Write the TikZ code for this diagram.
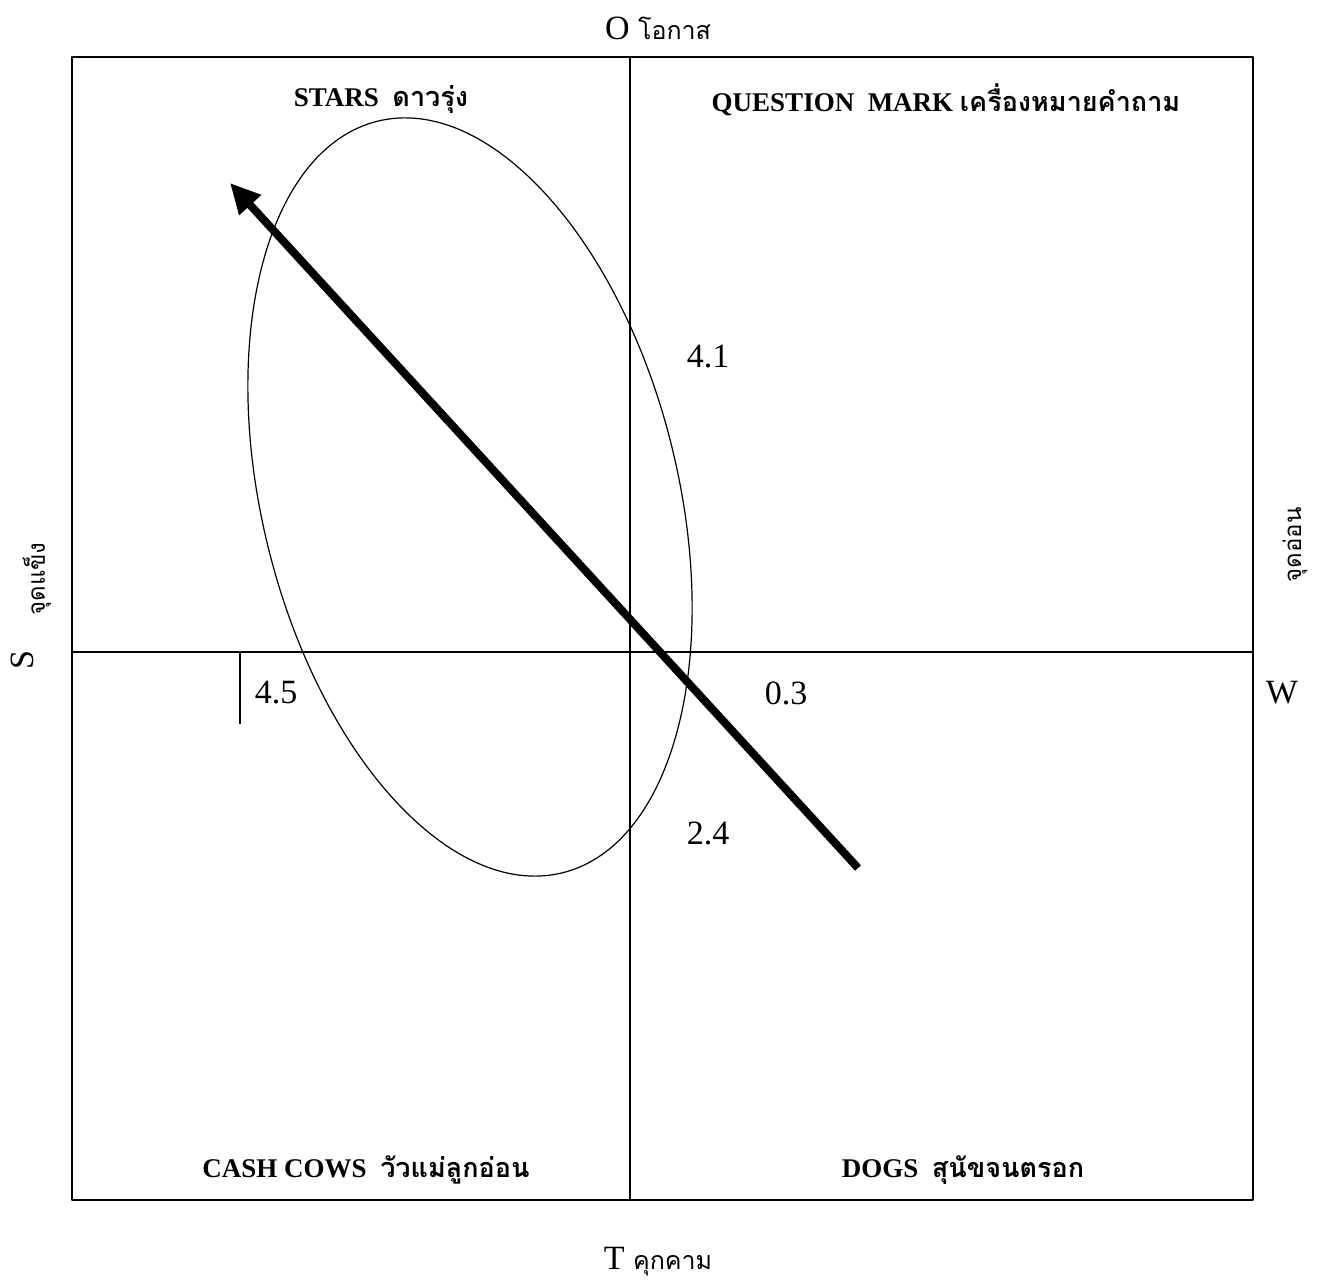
\documentclass[tikz,border=0pt]{standalone}
\usepackage{fontspec}
\setmainfont{Liberation Serif}
\newfontfamily\thai[Script=Thai]{Loma}
\usetikzlibrary{arrows.meta}
\begin{document}
\begin{tikzpicture}[x=0.5pt, y=0.5pt, font=\fontsize{17}{20}\selectfont, line join=round, >=Stealth]
			
			\useasboundingbox (0,0) rectangle (1328,1287);
			%\draw[gray!10] (0,0) grid[step=100] (1328,1287);
			\coordinate (SW) at (72,87); 
			\coordinate (NE) at (1253,1230); 
			\coordinate (N) at (630,1230); 
			\coordinate (S) at (630,87); 
			\coordinate (W) at (72,635); 
			\coordinate (E) at (1253,635); 
			\coordinate (C) at (470,790); 
			\coordinate (P) at (858,419); 
			\coordinate (Q) at (230,1104); 
			\coordinate (K1) at (240,635); 
			\coordinate (K2) at (240,563); 
			\draw[line width=1pt] (SW) rectangle (NE);
			\draw[line width=1pt] (N)--(S) (W)--(E) (K1)--(K2);
			\draw[line width=0.6pt] (C) ellipse[x radius=208, y radius=387, rotate=13.8];
			\draw[line width=4pt, -{Triangle[length=15pt,width=14pt]}] (P)--(Q);
			
			\node (o) at (658,1259) {O {\thai\fontsize{12.5}{14}\selectfont โอกาส}};
			\node (t) at (658,25) {T {\thai\fontsize{12.5}{14}\selectfont คุกคาม}};
			\node (s) at (22,627) [rotate=90] {S};
			\node (st) at (37,708) [rotate=90] {\thai\fontsize{12}{14}\selectfont จุดแข็ง};
			\node (w) at (1282,594) {W};
			\node (wk) at (1295,742) [rotate=90] {\thai\fontsize{12}{14}\selectfont จุดอ่อน};
			
			\node (stars) at (381,1187) {\fontsize{13.5}{16}\selectfont\bfseries STARS\ \ {\thai ดาวรุ่ง}};
			\node (qm) at (946,1187) {\fontsize{13.5}{16}\selectfont\bfseries QUESTION\ \ MARK {\thai เครื่องหมายคำถาม}};
			\node (cc) at (366,117) {\fontsize{13.5}{16}\selectfont\bfseries CASH COWS\ \ {\thai วัวแม่ลูกอ่อน}};
			\node (dg) at (963,117) {\fontsize{13.5}{16}\selectfont\bfseries DOGS\ \ {\thai สุนัขจนตรอก}};
			
			\node (v1) at (708,930) {4.1};
			\node (v2) at (708,454) {2.4};
			\node (v3) at (786,594) {0.3};
			\node (v4) at (276,594) {4.5};
	\end{tikzpicture}
\end{document}
